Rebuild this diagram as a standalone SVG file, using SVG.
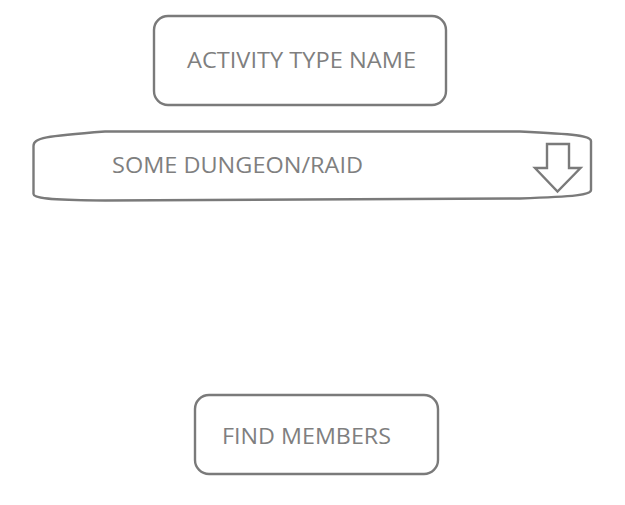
<svg xmlns="http://www.w3.org/2000/svg" width="625" height="505" viewBox="0 0 625 505">
<style>
.box{fill:#fff;stroke:#7a7a7a;stroke-width:2.4}
.lbl{font-family:"Open Sans","Noto Sans",sans-serif;font-size:21.5px;fill:#7f7f7f}
</style>
<rect width="625" height="505" fill="#fff"/>
<g id="activity-type-name">
<rect class="box" x="154" y="16" width="292" height="89" rx="14" ry="14"/>
<text class="lbl" x="187" y="67.5" textLength="229" lengthAdjust="spacingAndGlyphs">ACTIVITY TYPE NAME</text>
</g>
<g id="dungeon-dropdown">
<path class="box" d="M33.5,146 C33.5,138 45,136 105,131.5 L520,131.5 C575,134 591,136 591,141 L591,190 C591,195 575,196.5 520,198.5 L105,200.5 C45,200 33.5,198 33.5,194 Z"/>
<text class="lbl" x="112" y="172.5" textLength="251" lengthAdjust="spacingAndGlyphs">SOME DUNGEON/RAID</text>
<polygon class="box" points="547,144 569,144 569,168 580.5,168 557.5,191.5 535,168 547,168"/>
</g>
<g id="find-members">
<rect class="box" x="195" y="395" width="243" height="79" rx="14" ry="14"/>
<text class="lbl" x="222" y="444" textLength="169" lengthAdjust="spacingAndGlyphs">FIND MEMBERS</text>
</g>
<g id="connectors"/>
</svg>
